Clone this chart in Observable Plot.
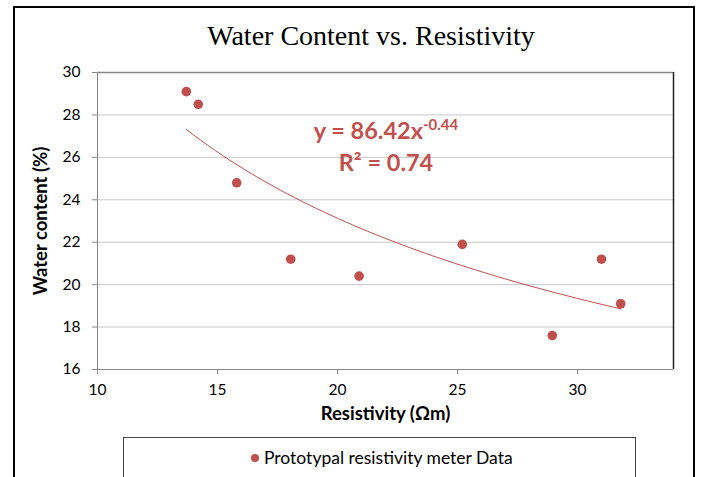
<!DOCTYPE html>
<html>
<head>
<meta charset="utf-8">
<script src="https://cdn.jsdelivr.net/npm/d3@7"></script>
<script src="https://cdn.jsdelivr.net/npm/@observablehq/plot@0.6"></script>
<style>
  html, body { margin: 0; padding: 0; background: #fff; overflow: hidden; }
  #wrap { position: relative; width: 702px; height: 477px; overflow: hidden; }
  #border { position: absolute; left: 13px; top: 6px; width: 682px; height: 490px; border: 2px solid #000; box-sizing: border-box; }
  #title { position: absolute; left: 0; width: 742px; top: 20px; text-align: center; font-family: "Liberation Serif", serif; font-size: 28px; color: #000; }
  #chart { position: absolute; left: 0; top: 0; }
  #eq { position: absolute; left: 276px; width: 220px; top: 114px; text-align: center; font-family: Lato, "Open Sans", sans-serif; font-weight: bold; font-size: 23.5px; color: #c0504d; line-height: 32px; }
  #eq sup { font-size: 15px; vertical-align: 9px; line-height: 0; }
  #legend { position: absolute; left: 123px; top: 437px; width: 513px; height: 60px; border: 1px solid #444; box-sizing: border-box; font-family: Lato, "Open Sans", sans-serif; font-size: 17.5px; }
  #legend .item { position: absolute; left: 127px; top: 9px; white-space: nowrap; color: #000; }
  #legend .dot { display: inline-block; width: 8px; height: 8px; border-radius: 50%; background: #c0504d; margin-right: 5px; vertical-align: 2px; }
  g[aria-label="x-axis label"] text, g[aria-label="y-axis label"] text { font-weight: bold; font-size: 18.5px; }
</style>
</head>
<body>
<div id="wrap">
  <div id="border"></div>
  <div id="chart"></div>
  <div id="title">Water Content vs. Resistivity</div>
  <div id="eq">y = 86.42x<sup>-0.44</sup><br>R² = 0.74</div>
  <div id="legend"><div class="item"><span class="dot"></span>Prototypal resistivity meter Data</div></div>
</div>
<script>
// Data
const resistivity = [13.7, 14.2, 15.8, 18.05, 20.9, 25.2, 28.95, 31.0, 31.8];
const waterContent = [29.1, 28.5, 24.8, 21.2, 20.4, 21.9, 17.6, 21.2, 19.1];
const xTicks = [10, 15, 20, 25, 30];
const yTicks = [16, 18, 20, 22, 24, 26, 28, 30];
// Power trendline stated on the chart: y = a * x^b
const trendA = 86.42;
const trendB = -0.44;

const points = resistivity.map((x, i) => ({x, y: waterContent[i]}));
const xMin = d3.min(resistivity), xMax = d3.max(resistivity);
const trend = d3.range(0, 61).map(i => {
  const x = xMin + (xMax - xMin) * i / 60;
  return {x, y: trendA * Math.pow(x, trendB)};
});

const red = "#c0504d";
const font = "Lato, 'Open Sans', sans-serif";

const chart = Plot.plot({
  width: 702,
  height: 430,
  marginLeft: 97,
  marginRight: 29,
  marginTop: 72,
  marginBottom: 61,
  style: {fontFamily: font, fontSize: "15.5px", color: "#000", background: "transparent", overflow: "visible"},
  x: {domain: [10, 34]},
  y: {domain: [16, 30]},
  marks: [
    Plot.gridY(yTicks, {stroke: "#c8c8c8", strokeOpacity: 1}),
    Plot.ruleY([30], {stroke: "#888", strokeWidth: 1.5}),
    Plot.ruleX([34], {stroke: "#222", strokeWidth: 1.5}),
    Plot.axisY(yTicks, {tickSize: 5, tickPadding: 12, stroke: "#888", label: "Water content (%)", labelAnchor: "center", labelOffset: 64, labelArrow: "none"}),
    Plot.axisX(xTicks, {tickSize: 5, tickPadding: 9, stroke: "#888", label: "Resistivity (Ωm)", labelAnchor: "center", labelOffset: 50, labelArrow: "none"}),
    Plot.ruleX([10], {stroke: "#888"}),
    Plot.ruleY([16], {stroke: "#888"}),
    Plot.line(trend, {x: "x", y: "y", stroke: red, strokeWidth: 1, curve: "linear"}),
    Plot.dot(points, {x: "x", y: "y", r: 4.8, fill: red, stroke: "none"})
  ]
});
document.getElementById("chart").appendChild(chart);
</script>
</body>
</html>
